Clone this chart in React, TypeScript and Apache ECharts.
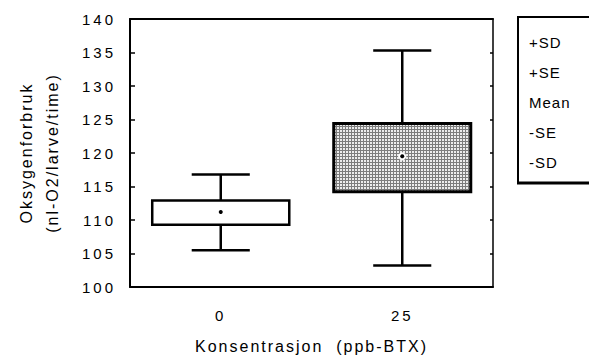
import React, { useEffect, useRef } from "react";
import * as echarts from "echarts";

// Oxygen consumption per larva by BTX concentration
const categories = ["0", "25"];
const sdUpper = [116.8, 135.3];
const seUpper = [112.9, 124.4];
const means = [111.2, 119.5];
const seLower = [109.3, 114.2];
const sdLower = [105.5, 103.2];

const legendLabels = ["+SD", "+SE", "Mean", "-SE", "-SD"];
const yTicks = { min: 100, max: 140, step: 5 };

const FONT = "'Liberation Sans', Arial, Helvetica, sans-serif";

function makeStipple(): HTMLCanvasElement {
  const c = document.createElement("canvas");
  c.width = 3;
  c.height = 3;
  const ctx = c.getContext("2d")!;
  ctx.fillStyle = "#ececec";
  ctx.fillRect(0, 0, 3, 3);
  ctx.fillStyle = "#7c7c7c";
  ctx.fillRect(0, 0, 3, 1);
  ctx.fillRect(0, 0, 1, 3);
  return c;
}

// Wide tracking, as in the typeset figure
function trackText(root: HTMLElement) {
  root.querySelectorAll("text").forEach((t) => {
    const s = (t.textContent || "").trim();
    let sp = 2;
    if (/^\d+$/.test(s)) sp = 3;
    else if (legendLabels.includes(s)) sp = 1;
    (t as SVGTextElement).style.letterSpacing = `${sp}px`;
  });
}

export default function App() {
  const ref = useRef<HTMLDivElement>(null);

  useEffect(() => {
    if (!ref.current) return;
    document.body.style.margin = "0";
    const chart = echarts.init(ref.current, undefined, { renderer: "svg" });
    const stipple = makeStipple();

    const data = categories.map((_, i) => [i, sdUpper[i], seUpper[i], means[i], seLower[i], sdLower[i]]);

    const option: any = {
      animation: false,
      backgroundColor: "#ffffff",
      textStyle: { fontFamily: FONT },
      grid: { left: 130, right: 96, top: 19, bottom: 71 },
      xAxis: [
        {
          type: "category",
          data: categories,
          position: "bottom",
          boundaryGap: true,
          axisLine: { lineStyle: { color: "#000", width: 2 } },
          axisTick: { inside: true, alignWithLabel: true, length: 4, lineStyle: { color: "#000", width: 1.5 } },
          axisLabel: { color: "#000", fontSize: 15, margin: 21, fontFamily: FONT },
          name: "Konsentrasjon  (ppb-BTX)",
          nameLocation: "middle",
          nameGap: 51,
          nameTextStyle: { color: "#000", fontSize: 16, fontFamily: FONT },
        },
        {
          type: "category",
          data: categories,
          position: "top",
          boundaryGap: true,
          axisLine: { lineStyle: { color: "#000", width: 2 } },
          axisTick: { inside: true, alignWithLabel: true, length: 4, lineStyle: { color: "#000", width: 1.5 } },
          axisLabel: { show: false },
        },
      ],
      yAxis: [
        {
          type: "value",
          min: yTicks.min,
          max: yTicks.max,
          interval: yTicks.step,
          position: "left",
          axisLine: { show: true, lineStyle: { color: "#000", width: 2 } },
          axisTick: { show: true, inside: true, length: 5, lineStyle: { color: "#000", width: 1.5 } },
          axisLabel: { color: "#000", fontSize: 15, margin: 14, fontFamily: FONT },
          splitLine: { show: false },
          name: "Oksygenforbruk\n(nl-O2/larve/time)",
          nameLocation: "middle",
          nameRotate: 90,
          nameGap: 65,
          nameTextStyle: { color: "#000", fontSize: 16, lineHeight: 26, fontFamily: FONT },
        },
        {
          type: "value",
          min: yTicks.min,
          max: yTicks.max,
          interval: yTicks.step,
          position: "right",
          axisLine: { show: true, lineStyle: { color: "#000", width: 1.5 } },
          axisTick: { show: true, inside: true, length: 3, lineStyle: { color: "#000", width: 1.5 } },
          axisLabel: { show: false },
          splitLine: { show: false },
        },
      ],
      series: [
        {
          type: "custom",
          xAxisIndex: 0,
          yAxisIndex: 0,
          data,
          encode: { x: 0, y: [1, 2, 3, 4, 5] },
          renderItem: (params: any, api: any) => {
            const idx = api.value(0);
            const band = api.size([1, 0])[0];
            const [cx, yTop] = api.coord([idx, api.value(1)]);
            const ySeTop = api.coord([idx, api.value(2)])[1];
            const yMean = api.coord([idx, api.value(3)])[1];
            const ySeBot = api.coord([idx, api.value(4)])[1];
            const yBot = api.coord([idx, api.value(5)])[1];
            const boxW = band * 0.755;
            const capW = band * 0.32;
            const stroke = { stroke: "#000", lineWidth: 2.5 };
            const shaded = idx === 1;
            const children: any[] = [
              { type: "line", shape: { x1: cx, y1: yTop, x2: cx, y2: yBot }, style: stroke },
              { type: "line", shape: { x1: cx - capW / 2, y1: yTop, x2: cx + capW / 2, y2: yTop }, style: stroke },
              { type: "line", shape: { x1: cx - capW / 2, y1: yBot, x2: cx + capW / 2, y2: yBot }, style: stroke },
              {
                type: "rect",
                shape: { x: cx - boxW / 2, y: ySeTop, width: boxW, height: ySeBot - ySeTop },
                style: {
                  fill: shaded ? { image: stipple, repeat: "repeat" } : "#fff",
                  stroke: "#000",
                  lineWidth: shaded ? 3 : 2.5,
                },
              },
            ];
            if (shaded) {
              children.push({ type: "circle", shape: { cx, cy: yMean, r: 4 }, style: { fill: "#fff" } });
            }
            children.push({ type: "circle", shape: { cx, cy: yMean, r: 2 }, style: { fill: "#000" } });
            return { type: "group", children };
          },
        },
      ],
      graphic: [
        {
          type: "rect",
          shape: { x: 518, y: 17, width: 90, height: 166 },
          style: { fill: "#fff", stroke: "#000", lineWidth: 2 },
        },
        {
          type: "line",
          shape: { x1: 517, y1: 183, x2: 600, y2: 183 },
          style: { stroke: "#000", lineWidth: 3 },
        },
        ...legendLabels.map((t, i) => ({
          type: "text",
          x: 529,
          y: 42 + i * 30,
          style: { text: t, fill: "#000", font: `15px ${FONT}`, textVerticalAlign: "middle" },
        })),
      ],
    };

    chart.setOption(option);
    trackText(ref.current);
    return () => chart.dispose();
  }, []);

  return <div ref={ref} style={{ width: 589, height: 359 }} />;
}
